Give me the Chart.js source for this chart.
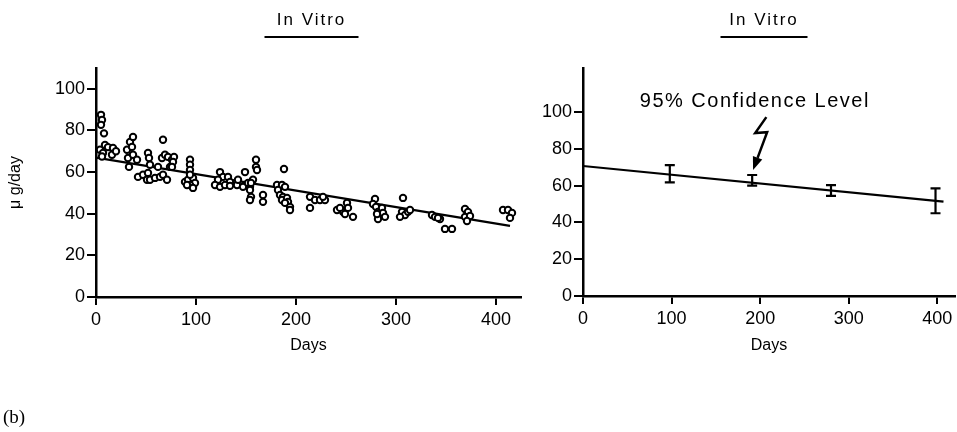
<!DOCTYPE html>
<html>
<head>
<meta charset="utf-8">
<script src="https://cdn.jsdelivr.net/npm/chart.js@4"></script>
<style>
body { margin: 0; background: #fff; width: 957px; height: 432px; position: relative; overflow: hidden; }
canvas { position: absolute; top: 0; }
#izq { left: 0; }
#der { left: 520px; }
#etiqueta { position: absolute; left: 3px; top: 406px; font: 19px "Liberation Serif", serif; color: #000; }
</style>
</head>
<body>
<canvas id="izq" width="540" height="432"></canvas>
<canvas id="der" width="437" height="432"></canvas>
<div id="etiqueta">(b)</div>
<script>
// Datos (días, µg/día)
const diasMuestra = [5, 6, 5, 8, 9, 12, 17, 4, 7, 16, 6, 20,
    31, 34, 37, 36, 32, 33, 37, 41,
    42, 47, 51, 54, 52, 52, 53, 54,
    59, 64, 67, 71, 66, 69, 72, 76, 74, 62, 67, 78, 77, 76,
    89, 92, 97, 99, 94, 97, 91, 94, 94, 94, 94,
    124, 127, 122, 132, 134, 119, 124, 129, 134, 141, 142,
    149, 149, 147, 154, 152, 157, 155, 154, 155, 154, 160, 160, 161,
    167, 167,
    188, 181, 186, 189, 182, 184, 187, 186, 191, 192, 189, 194, 194,
    214, 219, 224, 229, 214, 227,
    241, 247, 251, 252, 249, 257, 244,
    279, 277, 280, 282, 286, 287, 289, 282, 281,
    307, 306, 309, 304, 312, 314,
    336, 339, 344, 342, 349, 356,
    369, 372, 369, 374, 371,
    407, 412, 416, 414];
const tasaMuestra = [87.5, 85, 82.7, 78.6, 73, 72, 71.6, 70.7, 69.2, 68.3, 67.5, 70,
    70.7, 74.5, 76.9, 72.1, 66.8, 62.5, 68.3, 65.9,
    57.7, 58.7, 56.3, 56.3, 59.6, 69.2, 66.8, 63.5,
    57.2, 57.7, 58.7, 56.3, 66.8, 68.3, 67.3, 65.9, 62.5, 62.5, 75.5, 67.3, 64.9, 62.5,
    55.3, 56.3, 57.2, 54.8, 53.8, 52.4, 53.8, 65.9, 63.5, 61, 58.7,
    60, 57.7, 56.3, 57.7, 55.3, 53.8, 52.9, 53.8, 53.4, 53.8, 56.3,
    60, 53.8, 52.9, 52.9, 54.8, 56.3, 54.8, 51.4, 48.1, 46.6, 65.9, 62.5, 61,
    49, 45.7,
    61.5, 53.8, 53.8, 52.9, 51.4, 49, 48.1, 46.6, 47.6, 45.7, 45.2, 43.3, 41.8,
    48.1, 46.6, 46.6, 46.6, 42.8, 48.1,
    41.8, 40.9, 45.2, 42.8, 39.9, 38.5, 42.8,
    47.1, 44.7, 43.3, 40.9, 42.8, 40.4, 38.5, 37.5, 39.9,
    47.6, 40.9, 39.4, 38.5, 40.9, 41.8,
    39.4, 38.5, 37.5, 38, 32.7, 32.7,
    42.3, 40.9, 38.5, 38.9, 36.5,
    41.8, 41.8, 40.4, 38];
const diasAjuste = [0, 414];
const tasaAjuste = [67, 34.2];

const diasIC = [98, 191, 280, 398];
const mediaIC = [66.3, 61.6, 57, 51.6];
const icBajo = [61.8, 60, 54.5, 45];
const icAlto = [71.2, 65.8, 60.3, 58.5];
const diasRecta = [0, 407];
const tasaRecta = [70.7, 51.3];

const marcasX = [0, 100, 200, 300, 400];
const marcasY = [0, 20, 40, 60, 80, 100];

// Nota y flecha, en unidades de datos del panel derecho
const notaTexto = '95% Confidence Level';
const notaPos = [194, 106];
const flechaX = [207, 194.4, 207.9, 192];
const flechaY = [97.3, 88.6, 89.1, 68.5];

const fuente = '"Liberation Sans", Arial, sans-serif';
Chart.defaults.font.family = fuente;
Chart.defaults.color = '#000';

const titulo = {
    id: 'titulo',
    afterDraw(chart, args, opts) {
        const { ctx, chartArea } = chart;
        const cx = (chartArea.left + chartArea.right) / 2 + opts.dx;
        ctx.save();
        ctx.fillStyle = '#000';
        ctx.font = '17px ' + fuente;
        ctx.letterSpacing = '2px';
        ctx.textAlign = 'center';
        ctx.textBaseline = 'middle';
        ctx.fillText('In Vitro', cx, 20);
        ctx.fillRect(cx - opts.ancho / 2, 36, opts.ancho, 2);
        ctx.restore();
    }
};

const barrasError = {
    id: 'barrasError',
    afterDatasetsDraw(chart) {
        const { ctx, scales: { x, y } } = chart;
        ctx.save();
        ctx.strokeStyle = '#000';
        ctx.lineWidth = 2.2;
        diasIC.forEach((d, i) => {
            const px = x.getPixelForValue(d);
            const arriba = y.getPixelForValue(icAlto[i]);
            const abajo = y.getPixelForValue(icBajo[i]);
            ctx.beginPath();
            ctx.moveTo(px, arriba); ctx.lineTo(px, abajo);
            ctx.moveTo(px - 5, arriba); ctx.lineTo(px + 5, arriba);
            ctx.moveTo(px - 5, abajo); ctx.lineTo(px + 5, abajo);
            ctx.stroke();
        });

        // nota con la flecha en zigzag
        ctx.fillStyle = '#000';
        ctx.font = '20px ' + fuente;
        ctx.letterSpacing = '1.5px';
        ctx.textAlign = 'center';
        ctx.textBaseline = 'middle';
        ctx.fillText(notaTexto, x.getPixelForValue(notaPos[0]), y.getPixelForValue(notaPos[1]));

        const pts = flechaX.map((v, i) => [x.getPixelForValue(v), y.getPixelForValue(flechaY[i])]);
        const punta = pts[pts.length - 1];
        const prev = pts[pts.length - 2];
        const ang = Math.atan2(punta[1] - prev[1], punta[0] - prev[0]);
        const largo = 13;
        ctx.beginPath();
        ctx.moveTo(pts[0][0], pts[0][1]);
        for (let i = 1; i < pts.length - 1; i++) ctx.lineTo(pts[i][0], pts[i][1]);
        ctx.lineTo(punta[0] - largo * Math.cos(ang), punta[1] - largo * Math.sin(ang));
        ctx.lineWidth = 2.5;
        ctx.stroke();
        ctx.beginPath();
        ctx.moveTo(punta[0], punta[1]);
        ctx.lineTo(punta[0] - largo * Math.cos(ang) - 5 * Math.sin(ang), punta[1] - largo * Math.sin(ang) + 5 * Math.cos(ang));
        ctx.lineTo(punta[0] - largo * Math.cos(ang) + 5 * Math.sin(ang), punta[1] - largo * Math.sin(ang) - 5 * Math.cos(ang));
        ctx.closePath();
        ctx.fill();
        ctx.restore();
    }
};

function ejes(maxX, maxY, anchoY, altoX, conTitulo) {
    return {
        x: {
            type: 'linear', min: 0, max: maxX,
            afterBuildTicks: s => { s.ticks = marcasX.map(v => ({ value: v })); },
            afterFit: s => { s.height = altoX; },
            ticks: { font: { size: 18 }, padding: 4, maxRotation: 0 },
            grid: { drawOnChartArea: false, color: '#000', lineWidth: 2, tickLength: 8 },
            border: { color: '#000', width: 2.5 },
            title: { display: true, text: 'Days', font: { size: 16 }, padding: { top: 0, bottom: 77 } }
        },
        y: {
            type: 'linear', min: 0, max: maxY,
            afterBuildTicks: s => { s.ticks = marcasY.map(v => ({ value: v })); },
            afterFit: s => { s.width = anchoY; },
            ticks: { font: { size: 18 }, padding: 2 },
            grid: { drawOnChartArea: false, color: '#000', lineWidth: 2, tickLength: 9 },
            border: { color: '#000', width: 2.5 },
            title: { display: conTitulo, text: 'μ g/day', font: { size: 16 }, padding: { top: 6, bottom: 0 } }
        }
    };
}

new Chart(document.getElementById('izq'), {
    type: 'scatter',
    data: {
        datasets: [{
            data: diasMuestra.map((d, i) => ({ x: d, y: tasaMuestra[i] })),
            pointRadius: 3.2,
            pointBorderWidth: 2,
            borderColor: '#000',
            backgroundColor: '#fff'
        }, {
            type: 'line',
            data: diasAjuste.map((d, i) => ({ x: d, y: tasaAjuste[i] })),
            borderColor: '#000',
            borderWidth: 2.2,
            pointRadius: 0
        }]
    },
    options: {
        responsive: false,
        animation: false,
        layout: { padding: { top: 68, left: 0, right: 19, bottom: 0 } },
        scales: ejes(425, 110, 96, 135, true),
        plugins: { legend: { display: false }, tooltip: { enabled: false }, titulo: { dx: 3, ancho: 94 } }
    },
    plugins: [titulo]
});

new Chart(document.getElementById('der'), {
    type: 'scatter',
    data: {
        datasets: [{
            type: 'line',
            data: diasRecta.map((d, i) => ({ x: d, y: tasaRecta[i] })),
            borderColor: '#000',
            borderWidth: 2.2,
            pointRadius: 0
        }, {
            data: diasIC.map((d, i) => ({ x: d, y: mediaIC[i] })),
            pointRadius: 0
        }]
    },
    options: {
        responsive: false,
        animation: false,
        layout: { padding: { top: 68, left: 0, right: 2, bottom: 0 } },
        scales: ejes(420, 124, 63, 136, false),
        plugins: { legend: { display: false }, tooltip: { enabled: false }, titulo: { dx: -5, ancho: 87 } }
    },
    plugins: [titulo, barrasError]
});
</script>
</body>
</html>
